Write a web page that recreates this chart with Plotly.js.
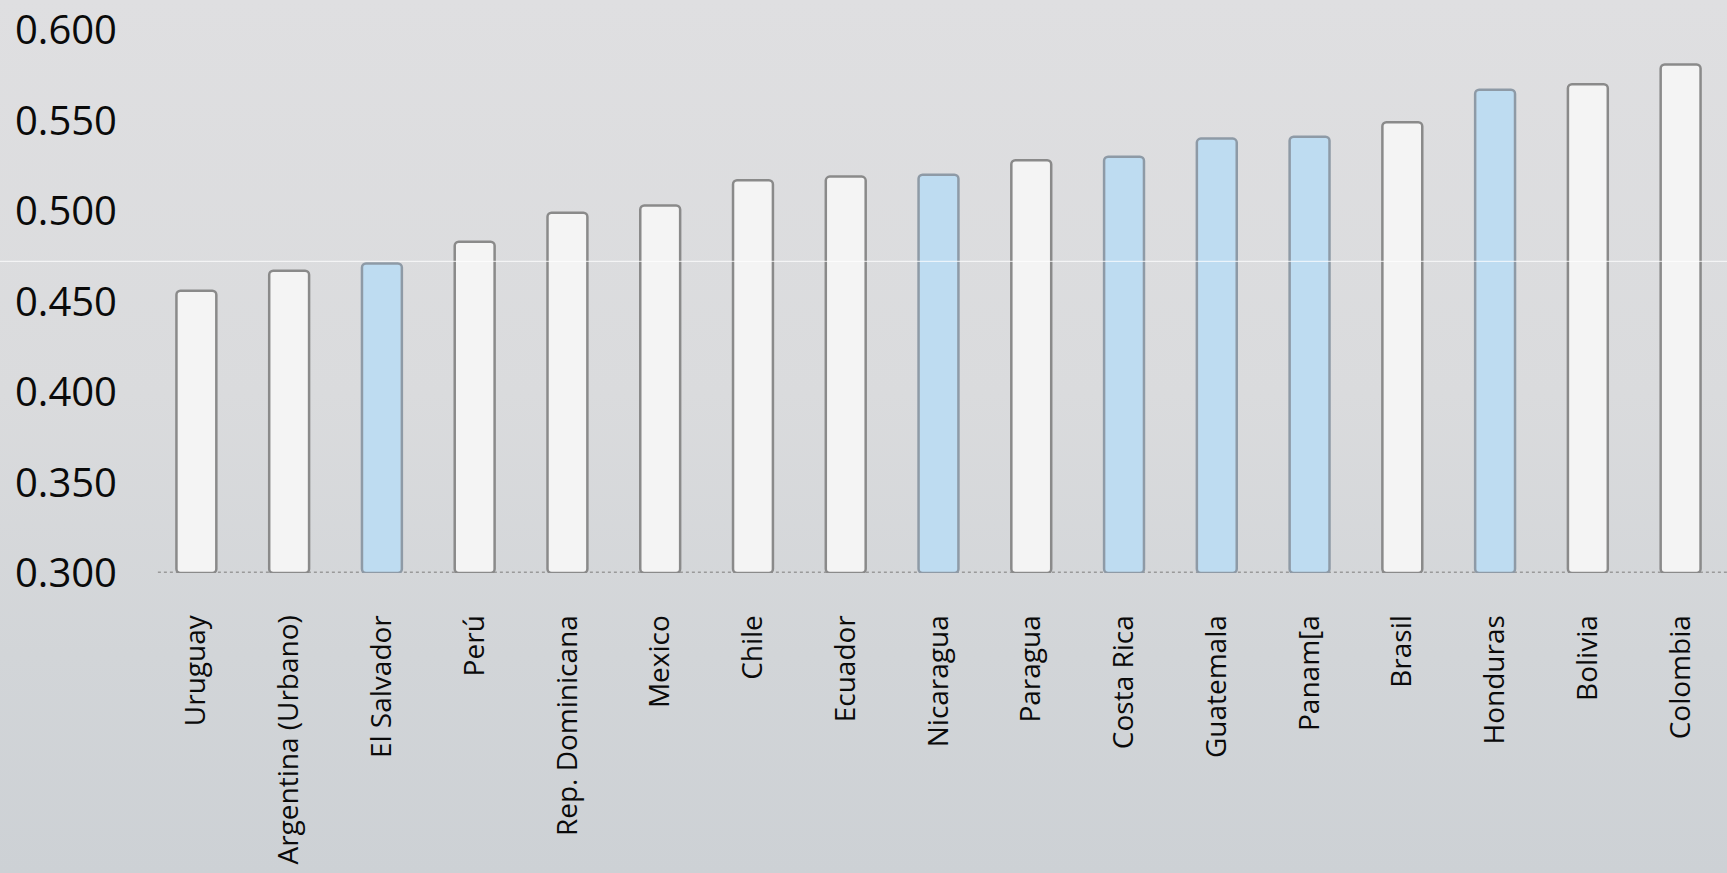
<!DOCTYPE html>
<html>
<head>
<meta charset="utf-8">
<script src="https://cdn.plot.ly/plotly-3.0.1.min.js"></script>
<style>
  html, body { margin: 0; padding: 0; }
  body { width: 1727px; height: 873px; background: linear-gradient(180deg, #dfdfe1 0%, #dadbdd 45%, #d2d5d8 75%, #cdd1d5 100%); }
  #chart { width: 1727px; height: 873px; }
</style>
</head>
<body>
<div id="chart"></div>
<script>
const countries = ["Uruguay", "Argentina (Urbano)", "El Salvador", "Perú", "Rep. Dominicana", "Mexico", "Chile", "Ecuador", "Nicaragua", "Paragua", "Costa Rica", "Guatemala", "Panam[a", "Brasil", "Honduras", "Bolivia", "Colombia"];
const giniValues = [0.456, 0.467, 0.471, 0.483, 0.499, 0.503, 0.517, 0.519, 0.520, 0.528, 0.530, 0.540, 0.541, 0.549, 0.567, 0.570, 0.581];
const centralAmerica = ["El Salvador", "Nicaragua", "Costa Rica", "Guatemala", "Panam[a", "Honduras"];
const yTicks = [0.300, 0.350, 0.400, 0.450, 0.500, 0.550, 0.600];
const yTickLabels = ["0.300", "0.350", "0.400", "0.450", "0.500", "0.550", "0.600"];

const fills = countries.map(c => centralAmerica.includes(c) ? "#bedcf1" : "#f4f4f4");
const borders = countries.map(c => centralAmerica.includes(c) ? "#8e9aa6" : "#8a8a8a");

const trace = {
  type: "bar",
  x: countries,
  y: giniValues.map(v => v - 0.3),
  base: 0.3,
  marker: { color: fills, line: { color: borders, width: 2.5 }, cornerradius: 4 },
  hoverinfo: "x+y"
};

const layout = {
  width: 1727,
  height: 873,
  margin: { l: 150, r: 0, t: 30, b: 300 },
  paper_bgcolor: "rgba(0,0,0,0)",
  plot_bgcolor: "rgba(0,0,0,0)",
  bargap: 0.57,
  showlegend: false,
  font: { family: "Open Sans, sans-serif", color: "#0a0a0a" },
  xaxis: {
    type: "category",
    range: [-0.5, 16.5],
    tickangle: -90,
    tickfont: { size: 28, color: "#0a0a0a" },
    ticks: "outside",
    ticklen: 30,
    tickcolor: "rgba(0,0,0,0)",
    showline: false,
    showgrid: false,
    zeroline: false,
    fixedrange: true
  },
  yaxis: {
    range: [0.3, 0.6],
    tickvals: yTicks,
    ticktext: yTickLabels,
    tickfont: { size: 40, color: "#0a0a0a" },
    ticks: "outside",
    ticklen: 24,
    tickcolor: "rgba(0,0,0,0)",
    showgrid: false,
    zeroline: false,
    showline: false,
    fixedrange: true
  },
  shapes: [
    { type: "line", xref: "paper", yref: "y", x0: 0.005, x1: 1, y0: 0.3, y1: 0.3,
      line: { color: "#9a9a9a", width: 3, dash: "dot" }, layer: "below" },
    { type: "line", xref: "paper", yref: "paper", x0: -0.1, x1: 1, y0: 0.574, y1: 0.574,
      line: { color: "rgba(255,255,255,0.85)", width: 1 }, layer: "above" }
  ]
};

Plotly.newPlot("chart", [trace], layout, { displayModeBar: false, staticPlot: true });
</script>
</body>
</html>
